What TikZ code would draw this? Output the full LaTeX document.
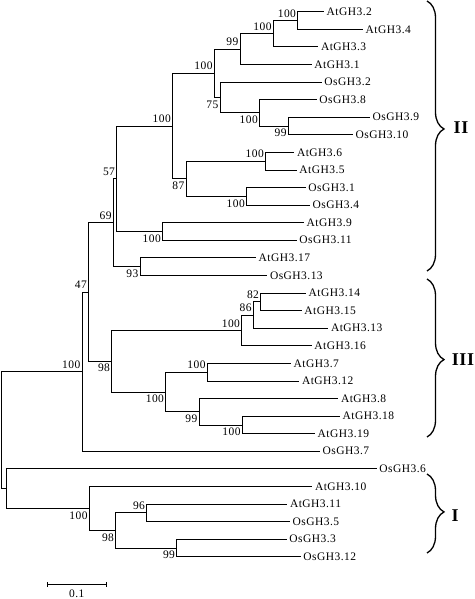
\documentclass[tikz,border=0pt]{standalone}
\usepackage{fontspec}
\setmainfont{Liberation Serif}[LetterSpace=4]
\usetikzlibrary{decorations.pathreplacing}

\begin{document}
\begin{tikzpicture}[x=1pt, y=-1pt,
    font=\fontsize{11.5}{13}\selectfont,
    branch/.style={line width=0.8pt},
    leaf/.style={anchor=west, inner xsep=2.5pt, inner ysep=0pt},
    bsa/.style={anchor=south east, inner xsep=1.5pt, inner ysep=3pt},
    bsb/.style={anchor=north east, inner xsep=1.5pt, inner ysep=3pt},
    clade/.style={font=\fontsize{18}{20}\selectfont\bfseries},
    curly/.style={line width=1.3pt, decorate, decoration={brace, amplitude=17pt, aspect=#1}}]
      \useasboundingbox (0,0) rectangle (474,599);
      % Define nodes
      \coordinate (n1) at (1,430);
      \coordinate (n2) at (82,371.5);
      \coordinate (n3) at (88.5,291.9);
      \coordinate (n4) at (113.3,222.6);
      \coordinate (n5) at (116.7,178.7);
      \coordinate (n6) at (172.5,126);
      \coordinate (n7) at (214.3,73.2);
      \coordinate (n8) at (240,49.05);
      \coordinate (n9) at (273.3,33.7);
      \coordinate (n10) at (297.7,20.5);
      \coordinate (n11) at (220,97.4);
      \coordinate (n12) at (259.5,112.8);
      \coordinate (n13) at (288.3,126);
      \coordinate (n14) at (186,178.7);
      \coordinate (n15) at (265.5,161.1);
      \coordinate (n16) at (246.5,196.3);
      \coordinate (n17) at (162.5,231.5);
      \coordinate (n18) at (140,266.6);
      \coordinate (n19) at (111.7,361.1);
      \coordinate (n20) at (241.7,330.4);
      \coordinate (n21) at (253.3,315);
      \coordinate (n22) at (260.7,301.8);
      \coordinate (n23) at (165.7,391.9);
      \coordinate (n24) at (207.3,372.1);
      \coordinate (n25) at (199,411.7);
      \coordinate (n26) at (242.3,424.9);
      \coordinate (n27) at (6.7,488.6);
      \coordinate (n28) at (89.3,508.4);
      \coordinate (n29) at (115.7,530.3);
      \coordinate (n30) at (146.7,512.8);
      \coordinate (n31) at (176.7,547.9);

      \node[leaf] (at32) at (324,11.7) {AtGH3.2};
      \node[leaf] (at34) at (363,29.3) {AtGH3.4};
      \node[leaf] (at33) at (318.3,46.9) {AtGH3.3};
      \node[leaf] (at31) at (311.7,64.4) {AtGH3.1};
      \node[leaf] (os32) at (321.7,82) {OsGH3.2};
      \node[leaf] (os38) at (316.7,99.6) {OsGH3.8};
      \node[leaf] (os39) at (370,117.2) {OsGH3.9};
      \node[leaf] (os310) at (353,134.8) {OsGH3.10};
      \node[leaf] (at36) at (294.3,152.3) {AtGH3.6};
      \node[leaf] (at35) at (296.7,169.9) {AtGH3.5};
      \node[leaf] (os31) at (305.7,187.5) {OsGH3.1};
      \node[leaf] (os34) at (310,205.1) {OsGH3.4};
      \node[leaf] (at39) at (304,222.7) {AtGH3.9};
      \node[leaf] (os311) at (296.7,240.2) {OsGH3.11};
      \node[leaf] (at317) at (256,257.8) {AtGH3.17};
      \node[leaf] (os313) at (267.3,275.4) {OsGH3.13};
      \node[leaf] (at314) at (306,293) {AtGH3.14};
      \node[leaf] (at315) at (301.7,310.6) {AtGH3.15};
      \node[leaf] (at313) at (328.3,328.2) {AtGH3.13};
      \node[leaf] (at316) at (311.7,345.7) {AtGH3.16};
      \node[leaf] (at37) at (291,363.3) {AtGH3.7};
      \node[leaf] (at312) at (299.3,380.9) {AtGH3.12};
      \node[leaf] (at38) at (338.3,398.5) {AtGH3.8};
      \node[leaf] (at318) at (340,416.1) {AtGH3.18};
      \node[leaf] (at319) at (315,433.6) {AtGH3.19};
      \node[leaf] (os37) at (320,451.2) {OsGH3.7};
      \node[leaf] (os36) at (376.7,468.8) {OsGH3.6};
      \node[leaf] (at310) at (312.3,486.4) {AtGH3.10};
      \node[leaf] (at311) at (287.3,504) {AtGH3.11};
      \node[leaf] (os35) at (290,521.5) {OsGH3.5};
      \node[leaf] (os33) at (286.7,539.1) {OsGH3.3};
      \node[leaf] (os312) at (300.7,556.7) {OsGH3.12};

      % Bootstrap values
      \node[bsa] (b2) at (n2) {100};
      \node[bsa] (b3) at (n3) {47};
      \node[bsa] (b4) at (n4) {69};
      \node[bsa] (b5) at (n5) {57};
      \node[bsa] (b6) at (n6) {100};
      \node[bsa] (b7) at (n7) {100};
      \node[bsa] (b8) at (n8) {99};
      \node[bsa] (b9) at (n9) {100};
      \node[bsa] (b10) at (n10) {100};
      \node[bsb] (b11) at (n11) {75};
      \node[bsb] (b12) at (n12) {100};
      \node[bsb] (b13) at (n13) {99};
      \node[bsb] (b14) at (n14) {87};
      \node[bsa] (b15) at (n15) {100};
      \node[bsb] (b16) at (n16) {100};
      \node[bsb] (b17) at (n17) {100};
      \node[bsb] (b18) at (n18) {93};
      \node[bsb] (b19) at (n19) {98};
      \node[bsa] (b20) at (n20) {100};
      \node[bsa] (b21) at (n21) {86};
      \node[bsa] (b22) at (n22) {82};
      \node[bsb] (b23) at (n23) {100};
      \node[bsa] (b24) at (n24) {100};
      \node[bsb] (b25) at (n25) {99};
      \node[bsb] (b26) at (n26) {100};
      \node[bsb] (b28) at (n28) {100};
      \node[bsb] (b29) at (n29) {98};
      \node[bsa] (b30) at (n30) {96};
      \node[bsb] (b31) at (n31) {99};

      % Connect nodes
      \draw[branch] (n1) |- (n2) (n1) |- (n27);
      \draw[branch] (n2) |- (n3) (n2) |- (os37.west);
      \draw[branch] (n3) |- (n4) (n3) |- (n19);
      \draw[branch] (n4) |- (n5) (n4) |- (n18);
      \draw[branch] (n5) |- (n6) (n5) |- (n17);
      \draw[branch] (n6) |- (n7) (n6) |- (n14);
      \draw[branch] (n7) |- (n8) (n7) |- (n11);
      \draw[branch] (n8) |- (n9) (n8) |- (at31.west);
      \draw[branch] (n9) |- (n10) (n9) |- (at33.west);
      \draw[branch] (n10) |- (at32.west) (n10) |- (at34.west);
      \draw[branch] (n11) |- (os32.west) (n11) |- (n12);
      \draw[branch] (n12) |- (os38.west) (n12) |- (n13);
      \draw[branch] (n13) |- (os39.west) (n13) |- (os310.west);
      \draw[branch] (n14) |- (n15) (n14) |- (n16);
      \draw[branch] (n15) |- (at36.west) (n15) |- (at35.west);
      \draw[branch] (n16) |- (os31.west) (n16) |- (os34.west);
      \draw[branch] (n17) |- (at39.west) (n17) |- (os311.west);
      \draw[branch] (n18) |- (at317.west) (n18) |- (os313.west);
      \draw[branch] (n19) |- (n20) (n19) |- (n23);
      \draw[branch] (n20) |- (n21) (n20) |- (at316.west);
      \draw[branch] (n21) |- (n22) (n21) |- (at313.west);
      \draw[branch] (n22) |- (at314.west) (n22) |- (at315.west);
      \draw[branch] (n23) |- (n24) (n23) |- (n25);
      \draw[branch] (n24) |- (at37.west) (n24) |- (at312.west);
      \draw[branch] (n25) |- (at38.west) (n25) |- (n26);
      \draw[branch] (n26) |- (at318.west) (n26) |- (at319.west);
      \draw[branch] (n27) |- (os36.west) (n27) |- (n28);
      \draw[branch] (n28) |- (at310.west) (n28) |- (n29);
      \draw[branch] (n29) |- (n30) (n29) |- (n31);
      \draw[branch] (n30) |- (at311.west) (n30) |- (os35.west);
      \draw[branch] (n31) |- (os33.west) (n31) |- (os312.west);

      % Clades
      \draw[curly=0.474] (427,1) -- (427,271);
      \draw[curly=0.51] (427,279) -- (427,437);
      \draw[curly=0.48] (427,474) -- (427,553);
      \node[clade] (c2) at (461,128) {II};
      \node[clade] (c3) at (463,360) {III};
      \node[clade] (c1) at (455,516) {I};

      % Scale bar
      \coordinate (sb1) at (47.3,584);
      \coordinate (sb2) at (106,584);
      \draw[branch] (sb1) -- (sb2);
      \draw[branch] ([yshift=-2.5pt]sb1) -- ([yshift=2.5pt]sb1);
      \draw[branch] ([yshift=-2.5pt]sb2) -- ([yshift=2.5pt]sb2);
      \node (sbl) at (76.7,593.5) {0.1};
\end{tikzpicture}
\end{document}
